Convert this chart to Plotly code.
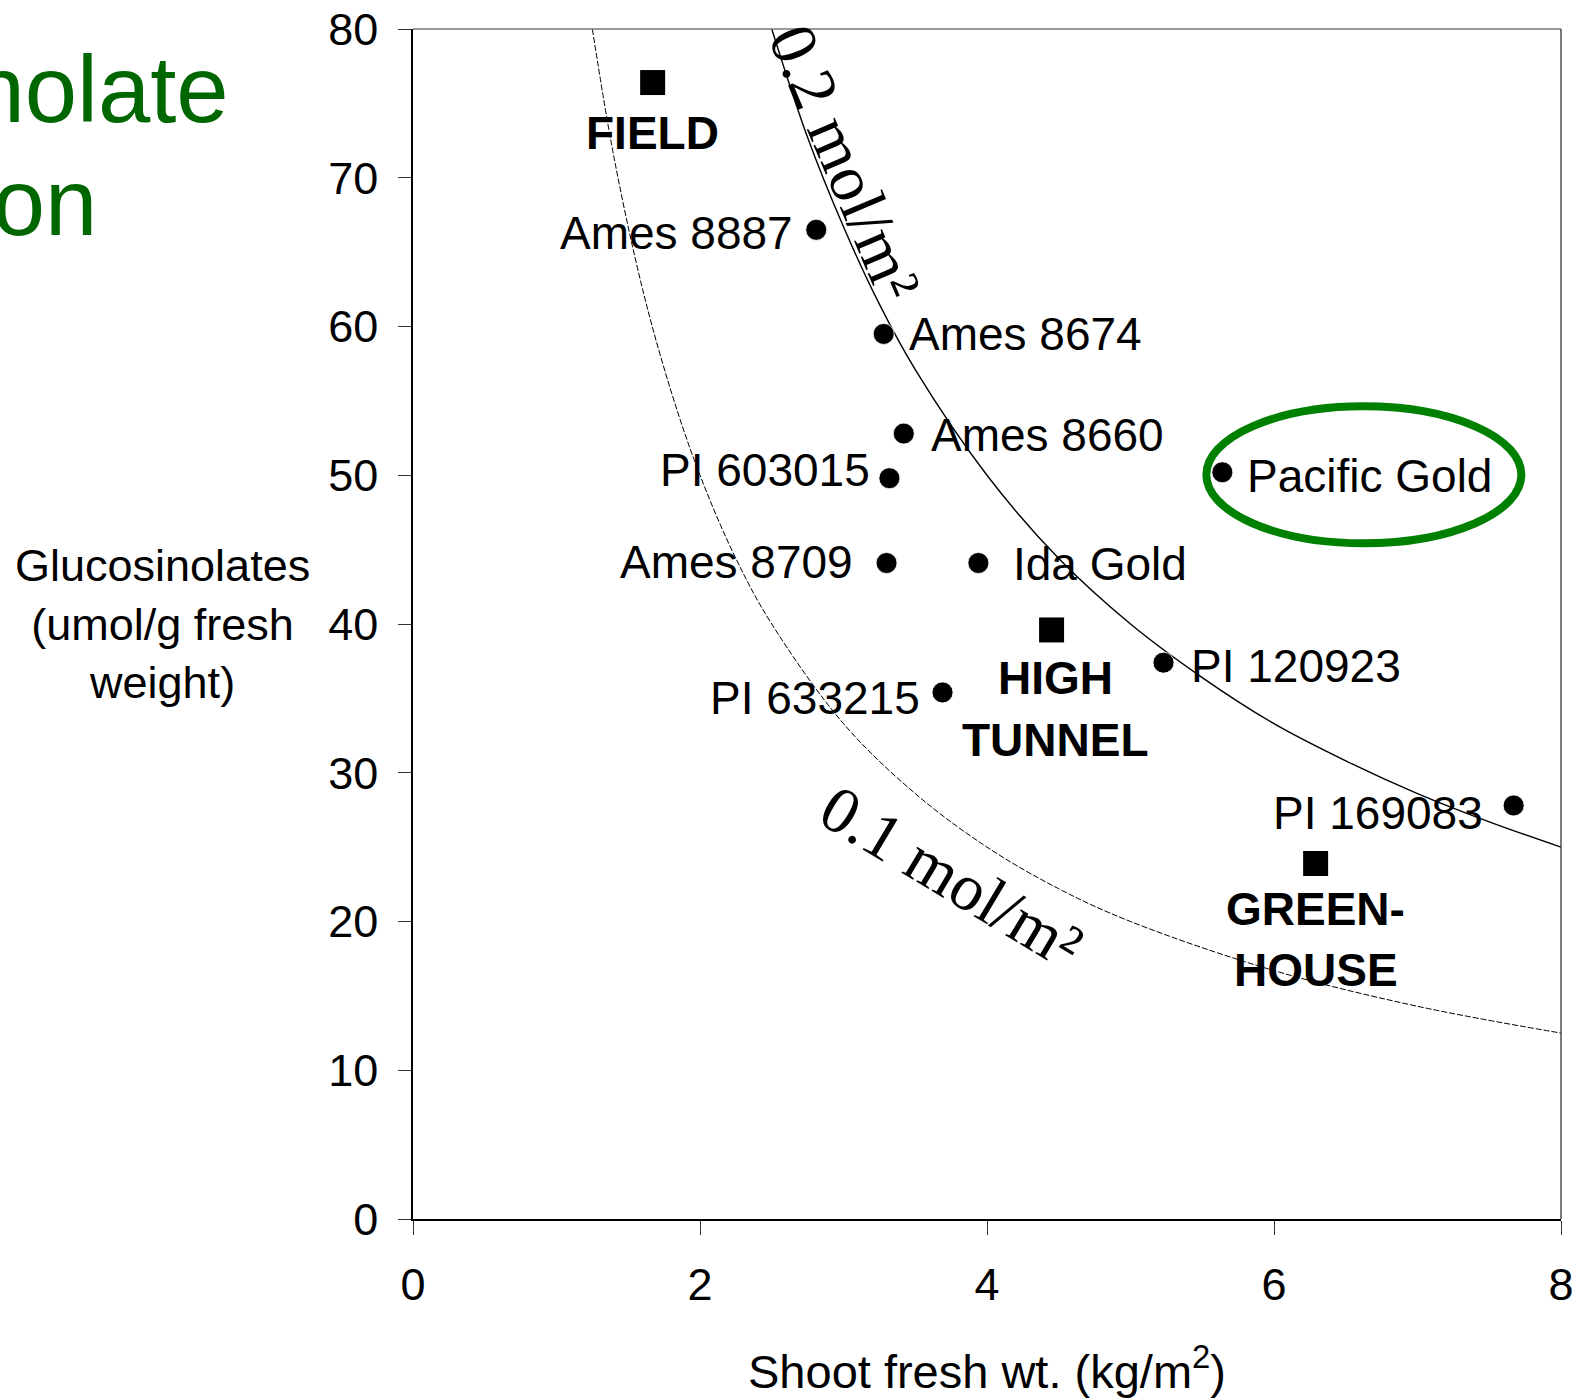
import plotly.graph_objects as go

# ---------------- data ----------------
accessions = ["Ames 8887", "Ames 8674", "Ames 8660", "PI 603015", "Ames 8709",
              "Ida Gold", "PI 120923", "PI 633215", "Pacific Gold", "PI 169083"]
acc_shoot_wt = [2.81, 3.28, 3.42, 3.32, 3.30, 3.94, 5.23, 3.69, 5.64, 7.67]
acc_gluc = [66.5, 59.5, 52.8, 49.8, 44.1, 44.1, 37.4, 35.4, 50.2, 27.8]

environments = ["FIELD", "HIGH<br>TUNNEL", "GREEN-<br>HOUSE"]
env_shoot_wt = [1.67, 4.45, 6.29]
env_gluc = [76.4, 39.6, 23.9]

# iso-yield curves (0.2 and 0.1 mol/m2)
curve02_x = [2.5, 2.75, 3.0, 3.25, 3.5, 4.0, 4.5, 5.0, 5.5, 6.0, 6.5, 7.0, 7.5, 8.0]
curve02_y = [80, 72.7, 66.7, 61.5, 57.1, 50.0, 44.4, 40.0, 36.4, 33.3, 30.8, 28.6, 26.7, 25.0]
curve01_x = [1.25, 1.4, 1.6, 1.8, 2.0, 2.25, 2.5, 3.0, 3.5, 4.0, 4.5, 5.0, 6.0, 7.0, 8.0]
curve01_y = [80, 71.4, 62.5, 55.6, 50.0, 44.4, 40.0, 33.3, 28.6, 25.0, 22.2, 20.0, 16.7, 14.3, 12.5]

x_ticks = [0, 2, 4, 6, 8]
y_ticks = [0, 10, 20, 30, 40, 50, 60, 70, 80]

highlighted = "Pacific Gold"

# ---------------- label placement (style) ----------------
acc_label_style = {
    "Ames 8887": ("right", -21, -3),
    "Ames 8674": ("left", 23, 0),
    "Ames 8660": ("left", 25, -1),
    "PI 603015": ("right", -17, 8),
    "Ames 8709": ("right", -32, 1),
    "Ida Gold": ("left", 33, -1),
    "PI 120923": ("left", 25, -3),
    "PI 633215": ("right", -21, -6),
    "Pacific Gold": ("left", 23, -4),
    "PI 169083": ("right", -29, -8),
}
env_label_style = {"FIELD": (0, -50, 0), "HIGH<br>TUNNEL": (4, -48, 62), "GREEN-<br>HOUSE": (0, -46, 61)}

SANS = "Liberation Sans, Arial, sans-serif"
SERIF = "Liberation Serif, Times New Roman, serif"
FS = 46
TICK_FS = 45

fig = go.Figure()

fig.add_trace(go.Scatter(x=curve01_x, y=curve01_y, mode="lines",
                         line=dict(color="black", width=1, dash="6px,2px", shape="spline"),
                         hoverinfo="skip", showlegend=False))
fig.add_trace(go.Scatter(x=curve02_x, y=curve02_y, mode="lines",
                         line=dict(color="black", width=1.4, shape="spline"),
                         hoverinfo="skip", showlegend=False))
fig.add_trace(go.Scatter(x=acc_shoot_wt, y=acc_gluc, mode="markers",
                         marker=dict(symbol="circle", size=21, color="black",
                                     line=dict(color="white", width=0.8)),
                         showlegend=False))
fig.add_trace(go.Scatter(x=env_shoot_wt, y=env_gluc, mode="markers",
                         marker=dict(symbol="square", size=25, color="black"),
                         showlegend=False))

annotations = []
for name, xv, yv in zip(accessions, acc_shoot_wt, acc_gluc):
    anc, dx, dy = acc_label_style[name]
    annotations.append(dict(x=xv, y=yv, xref="x", yref="y", text=name, showarrow=False,
                            xanchor=anc, yanchor="middle", xshift=dx, yshift=dy,
                            font=dict(family=SANS, size=FS, color="black")))

for name, xv, yv in zip(environments, env_shoot_wt, env_gluc):
    dx, dy0, step = env_label_style[name]
    for i, line in enumerate(name.split("<br>")):
        annotations.append(dict(x=xv, y=yv, xref="x", yref="y", text="<b>" + line + "</b>",
                                showarrow=False, xanchor="center", yanchor="middle",
                                xshift=dx, yshift=dy0 - i * step,
                                font=dict(family=SANS, size=FS, color="black")))

# curve labels
annotations.append(dict(x=3.01, y=71.0, xref="x", yref="y", text="0.2 mol/m²", showarrow=False,
                        textangle=67, xanchor="center", yanchor="middle",
                        font=dict(family=SERIF, size=66, color="black")))
annotations.append(dict(x=3.75, y=23.0, xref="x", yref="y", text="0.1 mol/m²", showarrow=False,
                        textangle=31, xanchor="center", yanchor="middle",
                        font=dict(family=SERIF, size=66, color="black")))

# axis titles
annotations.append(dict(x=-0.2178, y=0.5, xref="paper", yref="paper",
                        text="Glucosinolates<br>(umol/g fresh<br>weight)", showarrow=False,
                        xanchor="center", yanchor="middle", align="center",
                        font=dict(family=SANS, size=45, color="black")))
annotations.append(dict(x=0.5, y=-0.1255, xref="paper", yref="paper",
                        text="Shoot fresh wt. (kg/m<sup>2</sup>)", showarrow=False,
                        xanchor="center", yanchor="middle",
                        font=dict(family=SANS, size=47, color="black")))

# slide title (partially off the left edge, as in the original slide)
GREEN_DARK = "#006600"
annotations.append(dict(x=(231 - 413) / 1148, y=(1219 - 89) / 1190, xref="paper", yref="paper",
                        text="Glucosinolate", showarrow=False, xanchor="right", yanchor="middle",
                        font=dict(family=SANS, size=94, color=GREEN_DARK)))
annotations.append(dict(x=(99 - 413) / 1148, y=(1219 - 202) / 1190, xref="paper", yref="paper",
                        text="Production", showarrow=False, xanchor="right", yanchor="middle",
                        font=dict(family=SANS, size=94, color=GREEN_DARK)))

# highlight ellipse around Pacific Gold
hi = accessions.index(highlighted)
shapes = [
    dict(type="circle", xref="x", yref="y", xsizemode="pixel", ysizemode="pixel",
         xanchor=acc_shoot_wt[hi], yanchor=acc_gluc[hi],
         x0=-16, x1=299, y0=-71, y1=66,
         line=dict(color="#008000", width=8)),
    # top and right frame lines
    dict(type="line", xref="paper", yref="paper", x0=0, x1=1, y0=1, y1=1,
         line=dict(color="#777777", width=1.5)),
    dict(type="line", xref="paper", yref="paper", x0=1, x1=1, y0=0, y1=1,
         line=dict(color="#333333", width=1.3)),
]

fig.update_layout(
    width=1589, height=1400,
    margin=dict(l=413, r=28, t=29, b=181, pad=0, autoexpand=False),
    paper_bgcolor="white", plot_bgcolor="white",
    annotations=annotations, shapes=shapes,
    showlegend=False,
    xaxis=dict(range=[0, 8], tickvals=x_ticks, ticktext=[str(v) for v in x_ticks],
               showgrid=False, zeroline=False, showline=True, linecolor="black", linewidth=2,
               ticks="outside", ticklen=14, tickwidth=1, tickcolor="#333333",
               ticklabelstandoff=11, automargin=False,
               tickfont=dict(family=SANS, size=TICK_FS, color="black"), fixedrange=True),
    yaxis=dict(range=[0, 80], tickvals=y_ticks, ticktext=[str(v) for v in y_ticks],
               showgrid=False, zeroline=False, showline=True, linecolor="black", linewidth=1.5,
               ticks="outside", ticklen=13, tickwidth=1, tickcolor="#333333",
               ticklabelstandoff=11, automargin=False,
               tickfont=dict(family=SANS, size=TICK_FS, color="black"), fixedrange=True),
)

fig.write_html("out.html")
